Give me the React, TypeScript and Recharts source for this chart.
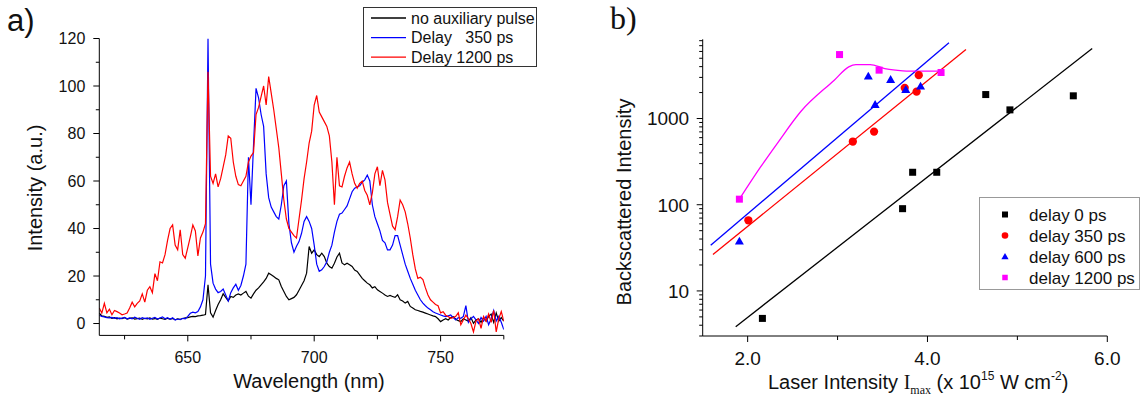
import React from 'react';
import { LineChart, ComposedChart, Line, XAxis, YAxis, Scatter, Legend } from 'recharts';

// ---------- Panel a) spectra ----------
const wavelengths = [
  615, 616, 617, 618, 619, 620, 621, 622, 623, 624,
  625, 626, 627, 628, 629, 630, 631, 632, 633, 634,
  635, 636, 637, 638, 639, 640, 641, 642, 643, 644,
  645, 646, 647, 648, 649, 650, 651, 652, 653, 654,
  655, 656, 657, 658, 659, 660, 661, 662, 663, 664,
  665, 666, 667, 668, 669, 670, 671, 672, 673, 674,
  675, 676, 677, 678, 679, 680, 681, 682, 683, 684,
  685, 686, 687, 688, 689, 690, 691, 692, 693, 694,
  695, 696, 697, 698, 699, 700, 701, 702, 703, 704,
  705, 706, 707, 708, 709, 710, 711, 712, 713, 714,
  715, 716, 717, 718, 719, 720, 721, 722, 723, 724,
  725, 726, 727, 728, 729, 730, 731, 732, 733, 734,
  735, 736, 737, 738, 739, 740, 741, 742, 743, 744,
  745, 746, 747, 748, 749, 750, 751, 752, 753, 754,
  755, 756, 757, 758, 759, 760, 761, 762, 763, 764,
  765, 766, 767, 768, 769, 770, 771, 772, 773, 774,
  775,
];

const noAuxiliary = [
  4.4, 3.2, 3, 2.6, 2.8, 2.2, 2.5, 2, 2.3, 2.1,
  2.5, 1.9, 2.2, 2.4, 1.9, 2.1, 2.3, 1.8, 2.2, 2,
  2.4, 1.9, 2.1, 1.8, 2.3, 2, 1.7, 2.2, 1.9, 2.1,
  1.6, 2, 1.8, 2.1, 2.4, 2.5, 2.8, 3, 2.9, 3.2,
  3.3, 3.5, 3.8, 16.3, 4.5, 2.7, 5.5, 8, 10, 12.5,
  11, 9.5, 11.4, 11, 12, 12.5, 12, 12.8, 13.5, 11.5,
  10.7, 12.5, 14, 15, 16.3, 17.5, 19, 21.2, 20.5, 19.8,
  19, 18.4, 15.6, 13.5, 11.4, 10, 10.5, 11, 12.1, 14,
  16, 18, 21.2, 32.4, 29.6, 31, 29, 28.2, 29.6, 28.2,
  25.4, 24, 23.3, 25.4, 28, 29.6, 25.5, 24.7, 25.4, 24.7,
  24, 22.5, 21.9, 20.5, 19, 18, 17, 16.3, 15, 15.5,
  14.2, 13.5, 12.8, 12, 11.4, 11.8, 11.4, 11, 12.1, 10,
  9.5, 8.6, 9.3, 7.2, 6.5, 5.8, 5.5, 5.1, 4.8, 4.4,
  4, 3.6, 3.2, 2.9, 2, 0.8, 1.5, 2, 1.5, 2.5,
  2.9, 1.8, 1.2, 0.8, 2, 1.5, 1, 2.5, 0.1, 1.5,
  2, 0.5, 2.5, 1, 3, 4, 0.5, 4.5, 1, 2.5,
  1,
];

const delay350 = [
  3.5, 3, 2.8, 2.5, 2.4, 2.6, 2.2, 2.5, 2, 2.3,
  2.6, 2, 2.4, 2, 2.7, 2.2, 1.8, 2.5, 2.1, 2.4,
  1.8, 2.2, 2.6, 1.9, 2.3, 2.8, 2, 2.5, 1.8, 2.4,
  1.5, 1.9, 1.6, 2.2, 2, 3, 4.3, 4.8, 4.5, 5,
  7, 10, 20, 120, 25, 17, 14.5, 13, 13.5, 14.5,
  12, 9.5, 13, 15, 16.5, 14, 16, 20, 25, 70,
  50, 75, 99, 95, 88, 83, 63, 53, 49, 47,
  45, 44, 50, 58, 60, 42, 34, 30, 32.5, 34.5,
  38, 43, 45, 43, 40, 33, 25, 22, 22.6, 24,
  26, 30, 33, 38.5, 43, 46, 46.5, 48, 49.5, 52.5,
  55.5, 57, 57.5, 58, 59.5, 60.5, 62.5, 60, 50, 45,
  42, 39, 35, 34, 31, 31, 33, 37, 37, 33,
  29, 25, 22, 19, 16.5, 14, 12, 10, 8.6, 7.5,
  6.5, 5.8, 5, 4.4, 4, 3.6, 3.2, 2.9, 3.2, 3.6,
  2.5, 1.5, 2.5, 2.2, 3, 7.5, 0.5, 2, 3, 1.5,
  0, 2.5, 1, 3, -0.5, 2, 5.5, 1, 3, 0.5,
  -2.5,
];

const delay1200 = [
  6.5, 4.4, 8.5, 4.5, 6, 3.7, 5.5, 5, 4.4, 3.7,
  4, 4.4, 6.5, 9, 7, 8.5, 9.5, 12.5, 9, 14,
  15.5, 13, 21, 18, 26, 25.5, 29, 35, 40, 41.5,
  33, 31, 39.5, 29, 27.5, 32, 36.5, 41.5, 39, 28.5,
  36, 38.5, 42, 106, 62, 59, 63, 57.5, 61, 66,
  71, 79, 78, 68, 62, 58.5, 58, 60, 62, 68,
  70.5, 72, 88, 91, 95.5, 100, 92, 104, 97, 90,
  82, 74, 63, 52, 44, 40, 38.5, 37, 36, 44,
  52, 61, 68, 76, 81, 92, 96, 89, 87, 85,
  83, 79, 68, 50, 70, 58, 57.5, 62, 65.5, 68,
  63, 59, 57, 59, 60, 56, 54, 50, 55, 63,
  66, 58, 64.5, 60.5, 51, 46, 41, 39.5, 45, 52,
  50, 47, 42, 36, 29, 23, 19, 19.5, 18.5, 15,
  12, 10, 9, 8, 7.5, 4.5, 5, 3.5, 3, 2.2,
  2.5, 3, 4.5, -0.5, 1.5, 3.5, 2, 0, -3.5, 1,
  2, -2, 3, 1, 4, 0.5, 5.5, -3.5, 2, 5,
  1,
];

const spectrumXTicks = [625, 650, 675, 700, 725, 750, 775];
const spectrumYTicks = [0, 10, 20, 30, 40, 50, 60, 70, 80, 90, 100, 110, 120];
const spectrumNames = ['no auxiliary pulse', 'Delay   350 ps', 'Delay 1200 ps'];
const spectrumColors = ['#000000', '#0000ff', '#ff0000'];

// ---------- Panel b) backscattered intensity ----------
const delay0X = [2.164, 3.723, 3.835, 4.103, 4.648, 4.917, 5.622];
const delay0Y = [4.8, 90, 238, 238, 1897, 1260, 1834];
const delay350X = [2.008, 3.17, 3.406, 3.747, 3.879, 3.903];
const delay350Y = [66, 541, 706, 2270, 2056, 3185];
const delay600X = [1.908, 3.342, 3.418, 3.59, 3.758, 3.923];
const delay600Y = [37.8, 3097, 1453, 2835, 2170, 2370];
const delay1200X = [1.908, 3.022, 3.462, 4.151];
const delay1200Y = [116, 5520, 3640, 3420];

const fit0X = [1.867, 5.832];
const fit0Y = [3.85, 6490];
const fit350X = [1.614, 4.428];
const fit350Y = [26.5, 6310];
const fit600X = [1.589, 4.239];
const fit600Y = [33.9, 7550];
const curve1200X = [1.908, 2.144, 2.33, 2.589, 2.963, 3.124, 3.204, 3.364, 3.525, 3.645, 3.766, 4.155];
const curve1200Y = [116, 274, 516, 1199, 2785, 3980, 4230, 4230, 3800, 3640, 3540, 3540];

const laserXTicks = [2, 3, 4, 5, 6];
const laserXMajor = [2, 4, 6];
const logYTicks = [
  3, 4, 5, 6, 7, 8, 9, 10, 20, 30, 40, 50, 60, 70, 80, 90,
  100, 200, 300, 400, 500, 600, 700, 800, 900,
  1000, 2000, 3000, 4000, 5000, 6000, 7000, 8000,
];
const logYMajor = [10, 100, 1000];
const delayNames = ['delay 0 ps', 'delay 350 ps', 'delay 600 ps', 'delay 1200 ps'];
const delayColors = ['#000000', '#ff0000', '#0000ff', '#ff00ff'];
const delayShapes = ['square', 'circle', 'triangle', 'square'];

const SANS = '"Liberation Sans", Arial, sans-serif';
const SERIF = '"Liberation Serif", "Times New Roman", serif';

const zip = (xs: number[], ys: number[]) => xs.map((x, i) => ({ x, y: ys[i] }));

const spectrumData = wavelengths.map((w, i) => ({
  w,
  black: noAuxiliary[i],
  blue: delay350[i],
  red: delay1200[i],
}));

// ---------- tick renderers ----------
const SpecXTick = (props: any) => {
  const { x, y, payload } = props;
  const v = payload.value;
  const major = v % 50 === 0;
  return (
    <g>
      <line x1={x} x2={x} y1={y} y2={y + (major ? 6 : 4)} stroke="#000" strokeWidth={1} />
      {major && (
        <text x={x} y={y + 27.5} textAnchor="middle" fontSize={16} fontFamily={SANS} fill="#111">
          {v}
        </text>
      )}
    </g>
  );
};

const SpecYTick = (props: any) => {
  const { x, y, payload } = props;
  const v = payload.value;
  const major = v % 20 === 0;
  return (
    <g>
      <line x1={x} x2={x - (major ? 6 : 3.5)} y1={y} y2={y} stroke="#000" strokeWidth={1} />
      {major && (
        <text x={x - 14} y={y} dy="0.36em" textAnchor="end" fontSize={16} fontFamily={SANS} fill="#111">
          {v}
        </text>
      )}
    </g>
  );
};

const LaserXTick = (props: any) => {
  const { x, y, payload } = props;
  const v = payload.value;
  const major = laserXMajor.includes(v);
  return (
    <g>
      <line x1={x} x2={x} y1={y} y2={y + (major ? 6 : 4)} stroke="#000" strokeWidth={1} />
      {major && (
        <text x={x} y={y + 29} textAnchor="middle" fontSize={19} fontFamily={SANS} fill="#111">
          {v.toFixed(1)}
        </text>
      )}
    </g>
  );
};

const LogYTick = (props: any) => {
  const { x, y, payload } = props;
  const v = payload.value;
  const major = logYMajor.includes(v);
  return (
    <g>
      <line x1={x} x2={x - (major ? 6 : 3.5)} y1={y} y2={y} stroke="#000" strokeWidth={1} />
      {major && (
        <text x={x - 13.5} y={y} dy="0.36em" textAnchor="end" fontSize={19} fontFamily={SANS} fill="#111">
          {v}
        </text>
      )}
    </g>
  );
};

const Marker = ({ kind, cx, cy, color, s }: any) => {
  if (kind === 'circle') return <circle cx={cx} cy={cy} r={s * 0.55} fill={color} />;
  if (kind === 'triangle')
    return (
      <polygon
        points={`${cx},${cy - s * 0.6} ${cx + s * 0.6},${cy + s * 0.45} ${cx - s * 0.6},${cy + s * 0.45}`}
        fill={color}
      />
    );
  return <rect x={cx - s / 2} y={cy - s / 2} width={s} height={s} fill={color} />;
};

const makeShape = (kind: string, color: string, s: number) => (p: any) =>
  <Marker kind={kind} cx={p.cx} cy={p.cy} color={color} s={s} />;

// ---------- legends ----------
const SpectrumLegend = () => (
  <svg width={180} height={62} style={{ position: 'absolute', left: 0, top: 0, overflow: 'visible' }}>
    <rect x={0.5} y={0.5} width={173} height={59} fill="#fff" stroke="#333" strokeWidth={1} />
    {spectrumNames.map((n, i) => (
      <g key={n}>
        <line x1={8} x2={43} y1={11 + i * 19.6} y2={11 + i * 19.6} stroke={spectrumColors[i]} strokeWidth={1.3} />
        <text
          x={48}
          y={11 + i * 19.6}
          dy="0.36em"
          fontSize={16}
          fontFamily={SANS}
          fill="#111"
          style={{ whiteSpace: 'pre' }}
        >
          {n}
        </text>
      </g>
    ))}
  </svg>
);

const DelayLegend = () => (
  <svg width={165} height={96} style={{ position: 'absolute', left: 0, top: 0, overflow: 'visible' }}>
    <rect x={0.5} y={0.5} width={160} height={92} fill="#fff" stroke="#999" strokeWidth={1} />
    {delayNames.map((n, i) => (
      <g key={n}>
        <Marker kind={delayShapes[i]} cx={26} cy={17.5 + i * 21} color={delayColors[i]} s={i === 3 ? 5.5 : 6} />
        <text x={50} y={17.5 + i * 21} dy="0.36em" fontSize={17} fontFamily={SANS} fill="#111">
          {n}
        </text>
      </g>
    ))}
  </svg>
);

export default function App() {
  return (
    <div style={{ position: 'absolute', left: 0, top: 0, width: 1147, height: 398, background: '#fff' }}>
      <div style={{ position: 'absolute', left: 0, top: 0 }}>
        <LineChart
          width={560}
          height={398}
          data={spectrumData}
          margin={{ top: 38.5, left: 39.3, right: 56.2, bottom: 32.6 }}
        >
          <XAxis
            dataKey="w"
            type="number"
            domain={[615, 775]}
            allowDataOverflow
            ticks={spectrumXTicks}
            interval={0}
            tickSize={0}
            tickMargin={0}
            tickLine={false}
            tick={<SpecXTick />}
            height={30}
            axisLine={{ stroke: '#000', strokeWidth: 1 }}
          />
          <YAxis
            type="number"
            domain={[-5, 120]}
            allowDataOverflow
            ticks={spectrumYTicks}
            interval={0}
            tickSize={0}
            tickMargin={0}
            tickLine={false}
            tick={<SpecYTick />}
            width={60}
            axisLine={{ stroke: '#000', strokeWidth: 1 }}
          />
          <Line dataKey="black" stroke="#000000" strokeWidth={1.2} dot={false} isAnimationActive={false} type="linear" />
          <Line dataKey="blue" stroke="#0000ff" strokeWidth={1.2} dot={false} isAnimationActive={false} type="linear" />
          <Line dataKey="red" stroke="#ff0000" strokeWidth={1.2} dot={false} isAnimationActive={false} type="linear" />
          <Legend
            content={() => <SpectrumLegend />}
            wrapperStyle={{ position: 'absolute', left: 363, top: 6.5, width: 0, height: 0, overflow: 'visible' }}
          />
        </LineChart>
      </div>

      <div style={{ position: 'absolute', left: 560, top: 0 }}>
        <ComposedChart width={587} height={398} margin={{ top: 39.3, left: 82.7, right: 39.7, bottom: 32 }}>
          <XAxis
            dataKey="x"
            type="number"
            domain={[1.5, 6]}
            allowDataOverflow
            ticks={laserXTicks}
            interval={0}
            tickSize={0}
            tickMargin={0}
            tickLine={false}
            tick={<LaserXTick />}
            height={30}
            axisLine={{ stroke: '#000', strokeWidth: 1 }}
          />
          <YAxis
            dataKey="y"
            type="number"
            scale="log"
            domain={[3, 8300]}
            allowDataOverflow
            ticks={logYTicks}
            interval={0}
            tickSize={0}
            tickMargin={0}
            tickLine={false}
            tick={<LogYTick />}
            width={60}
            axisLine={{ stroke: '#000', strokeWidth: 1 }}
          />
          <Line data={zip(fit0X, fit0Y)} dataKey="y" stroke="#000000" strokeWidth={1.3} dot={false} isAnimationActive={false} type="linear" />
          <Line data={zip(fit350X, fit350Y)} dataKey="y" stroke="#ff0000" strokeWidth={1.3} dot={false} isAnimationActive={false} type="linear" />
          <Line data={zip(fit600X, fit600Y)} dataKey="y" stroke="#0000ff" strokeWidth={1.3} dot={false} isAnimationActive={false} type="linear" />
          <Line data={zip(curve1200X, curve1200Y)} dataKey="y" stroke="#ff00ff" strokeWidth={1.3} dot={false} isAnimationActive={false} type="monotone" />
          <Scatter data={zip(delay0X, delay0Y)} dataKey="y" shape={makeShape('square', '#000000', 7)} isAnimationActive={false} />
          <Scatter data={zip(delay350X, delay350Y)} dataKey="y" shape={makeShape('circle', '#ff0000', 7.5)} isAnimationActive={false} />
          <Scatter data={zip(delay600X, delay600Y)} dataKey="y" shape={makeShape('triangle', '#0000ff', 7.5)} isAnimationActive={false} />
          <Scatter data={zip(delay1200X, delay1200Y)} dataKey="y" shape={makeShape('square', '#ff00ff', 7)} isAnimationActive={false} />
          <Legend
            content={() => <DelayLegend />}
            wrapperStyle={{ position: 'absolute', left: 419.3, top: 197.3, width: 0, height: 0, overflow: 'visible' }}
          />
        </ComposedChart>
      </div>

      <svg
        width={1147}
        height={398}
        style={{ position: 'absolute', left: 0, top: 0, pointerEvents: 'none' }}
      >
        <text x={7} y={31} fontSize={31} fontFamily={SANS} fill="#111">a)</text>
        <text x={610} y={29} fontSize={32} fontFamily={SERIF} fill="#111">b)</text>
        <text transform="translate(35,188) rotate(-90)" textAnchor="middle" dy="0.36em" fontSize={20} fontFamily={SANS} fill="#111">
          Intensity (a.u.)
        </text>
        <text x={309} y={388} textAnchor="middle" fontSize={20} fontFamily={SANS} fill="#111">
          Wavelength (nm)
        </text>
        <text transform="translate(624,202) rotate(-90)" textAnchor="middle" dy="0.36em" fontSize={20} fontFamily={SANS} fill="#111">
          Backscattered Intensity
        </text>
        <text x={768} y={389} fontSize={20} fontFamily={SANS} fill="#111">
          <tspan>Laser Intensity </tspan>
          <tspan fontFamily={SERIF}>I</tspan>
          <tspan fontFamily={SERIF} fontSize={12} dy={5}>max</tspan>
          <tspan dy={-5}> (x 10</tspan>
          <tspan fontSize={12} dy={-9}>15</tspan>
          <tspan dy={9}> W cm</tspan>
          <tspan fontSize={12} dy={-9}>-2</tspan>
          <tspan dy={9}>)</tspan>
        </text>
      </svg>
    </div>
  );
}
